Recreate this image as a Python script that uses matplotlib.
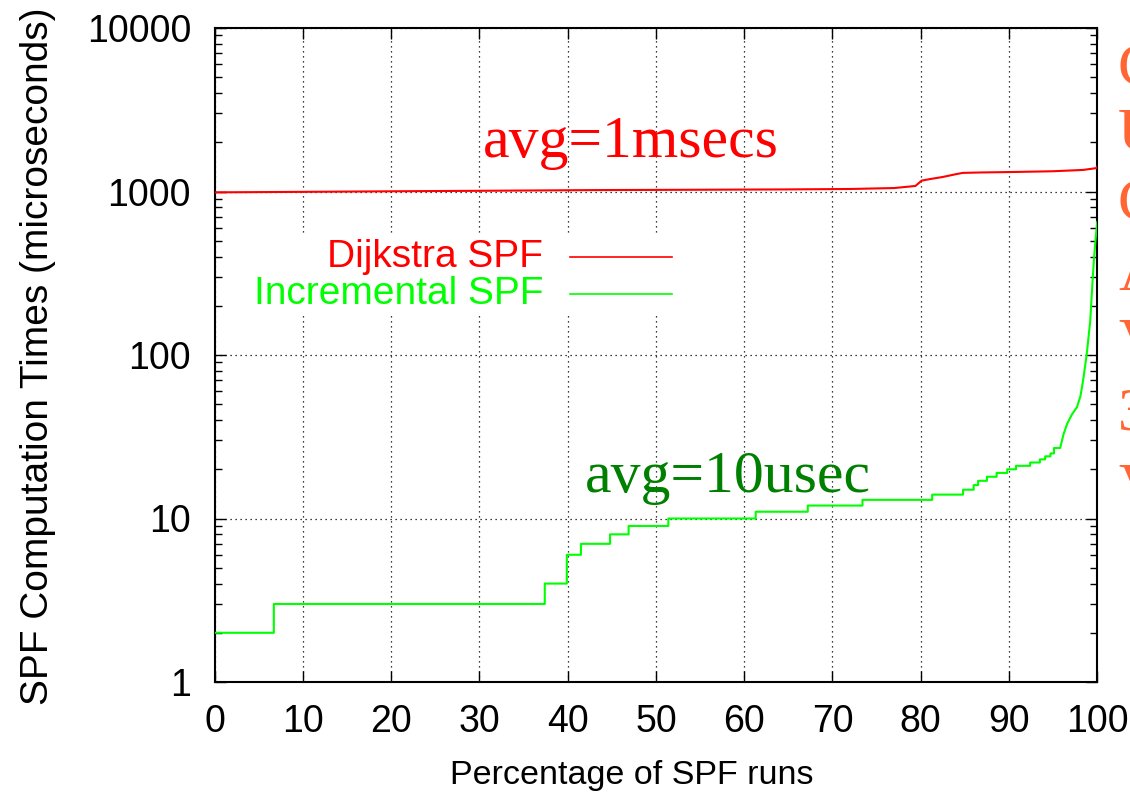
import numpy as np
import matplotlib
matplotlib.use('Agg')
from matplotlib import pyplot as plt
from matplotlib.patches import Rectangle

# Dijkstra SPF: percentage of runs vs computation time (us)
red_x = [0, 10, 20, 30, 43, 55, 65, 72, 77, 79.4, 80.1, 81, 82.5, 84.1,
         84.8, 87, 90.1, 95, 98.4, 99.9, 100]
red_y = [988, 995, 1003, 1010, 1020, 1025, 1030, 1036, 1050, 1081, 1165,
         1190, 1227, 1280, 1300, 1308, 1315, 1330, 1355, 1390, 1420]

# Incremental SPF: step part (value holds until next x)
inc_step_x = [0, 6.7, 37.4, 39.9, 41.5, 44.8, 46.9, 51.4, 61.3, 67.2, 73.4,
              81.3, 84.8, 86.0, 86.5, 87.5, 88.6, 89.8, 90.8, 92.4, 93.5,
              94.1, 94.7, 95.1]
inc_step_y = [2, 3, 4, 6, 7, 8, 9, 10, 11, 12, 13, 14, 15, 16, 17, 18, 19,
              20, 21, 22, 23, 24, 25, 27]
# tail
inc_tail_x = [95.8, 96.2, 96.6, 97.1, 97.7, 98.1, 98.4, 98.8, 99.2, 99.5,
              99.6, 99.8, 100]
inc_tail_y = [27, 33, 38, 43, 48, 56, 70, 100, 160, 300, 365, 500, 650]

yticks = [1, 10, 100, 1000, 10000]
side_letters = ['C', 'U', 'C', 'A', 'V', '3', 'V']
side_rows = [70, 135, 205, 275, 345, 415, 490]  # pixel rows of the cut slide text

sans = 'Liberation Sans'
serif = 'Liberation Serif'

fig = plt.figure(figsize=(11.3, 8), dpi=100)
ax = fig.add_axes([0.190, 0.1475, 0.781, 0.8175])

# build step curve
sx, sy = [], []
for i, (x, y) in enumerate(zip(inc_step_x, inc_step_y)):
    nx = inc_step_x[i + 1] if i + 1 < len(inc_step_x) else inc_tail_x[0]
    sx += [x, nx]
    sy += [y, y]
gx = sx + inc_tail_x
gy = sy + inc_tail_y

ax.plot(red_x, red_y, color='#ff0000', lw=1.5, zorder=3)
ax.plot(gx, gy, color='#00ff00', lw=1.5, zorder=3)

ax.set_yscale('log')
ax.set_xlim(0, 100)
ax.set_ylim(1, 10000)
ax.set_xticks(range(0, 101, 10))
ax.set_yticks(yticks)
ax.set_yticklabels([str(v) for v in yticks])
ax.tick_params(which='both', direction='in', top=True, right=True,
               labelsize=27)
ax.tick_params(which='major', length=8, width=1)
ax.tick_params(which='minor', length=5, width=1)
ax.tick_params(axis='x', pad=16)
ax.tick_params(axis='y', pad=17)
for lab in ax.get_xticklabels() + ax.get_yticklabels():
    lab.set_fontfamily(sans)
for s in ax.spines.values():
    s.set_linewidth(1.5)
ax.grid(True, which='major', color='black', linestyle=(0, (1, 3)), lw=0.9)

ax.set_xlabel('Percentage of SPF runs', fontsize=24.5, family=sans)
ax.set_ylabel('SPF Computation Times (microseconds)', fontsize=28,
              family=sans)
ax.yaxis.set_label_coords(-0.180, 0.498)
ax.xaxis.set_label_coords(0.473, -0.119)

# key box
ax.add_patch(Rectangle((0.034, 0.560), 0.499, 0.127, transform=ax.transAxes,
                       facecolor='white', edgecolor='none', zorder=2.5))
ax.text(0.372, 0.650, 'Dijkstra SPF', transform=ax.transAxes, ha='right',
        va='center', color='#ff0000', fontsize=28, family=sans, zorder=4)
ax.text(0.372, 0.593, 'Incremental SPF', transform=ax.transAxes, ha='right',
        va='center', color='#00ff00', fontsize=28, family=sans, zorder=4)
ax.plot([0.4025, 0.518], [0.650, 0.650], transform=ax.transAxes,
        color='#ff0000', lw=1.2, zorder=4)
ax.plot([0.4025, 0.518], [0.593, 0.593], transform=ax.transAxes,
        color='#00ff00', lw=1.2, zorder=4)

ax.text(47.2, 1980, 'avg=1msecs', ha='center', va='center', color='#ff0000',
        fontsize=43, family=serif, zorder=4)
ax.text(58.2, 17.7, 'avg=10usec', ha='center', va='center', color='#008000',
        fontsize=43, family=serif, zorder=4)

# slide text cut off at the right edge
for ch, yc in zip(side_letters, side_rows):
    fig.text(1118 / 1130, 1 - yc / 800, ch, ha='left', va='center',
             color='#ff6633', fontsize=44, family=serif)

fig.savefig('out.png', dpi=100)
